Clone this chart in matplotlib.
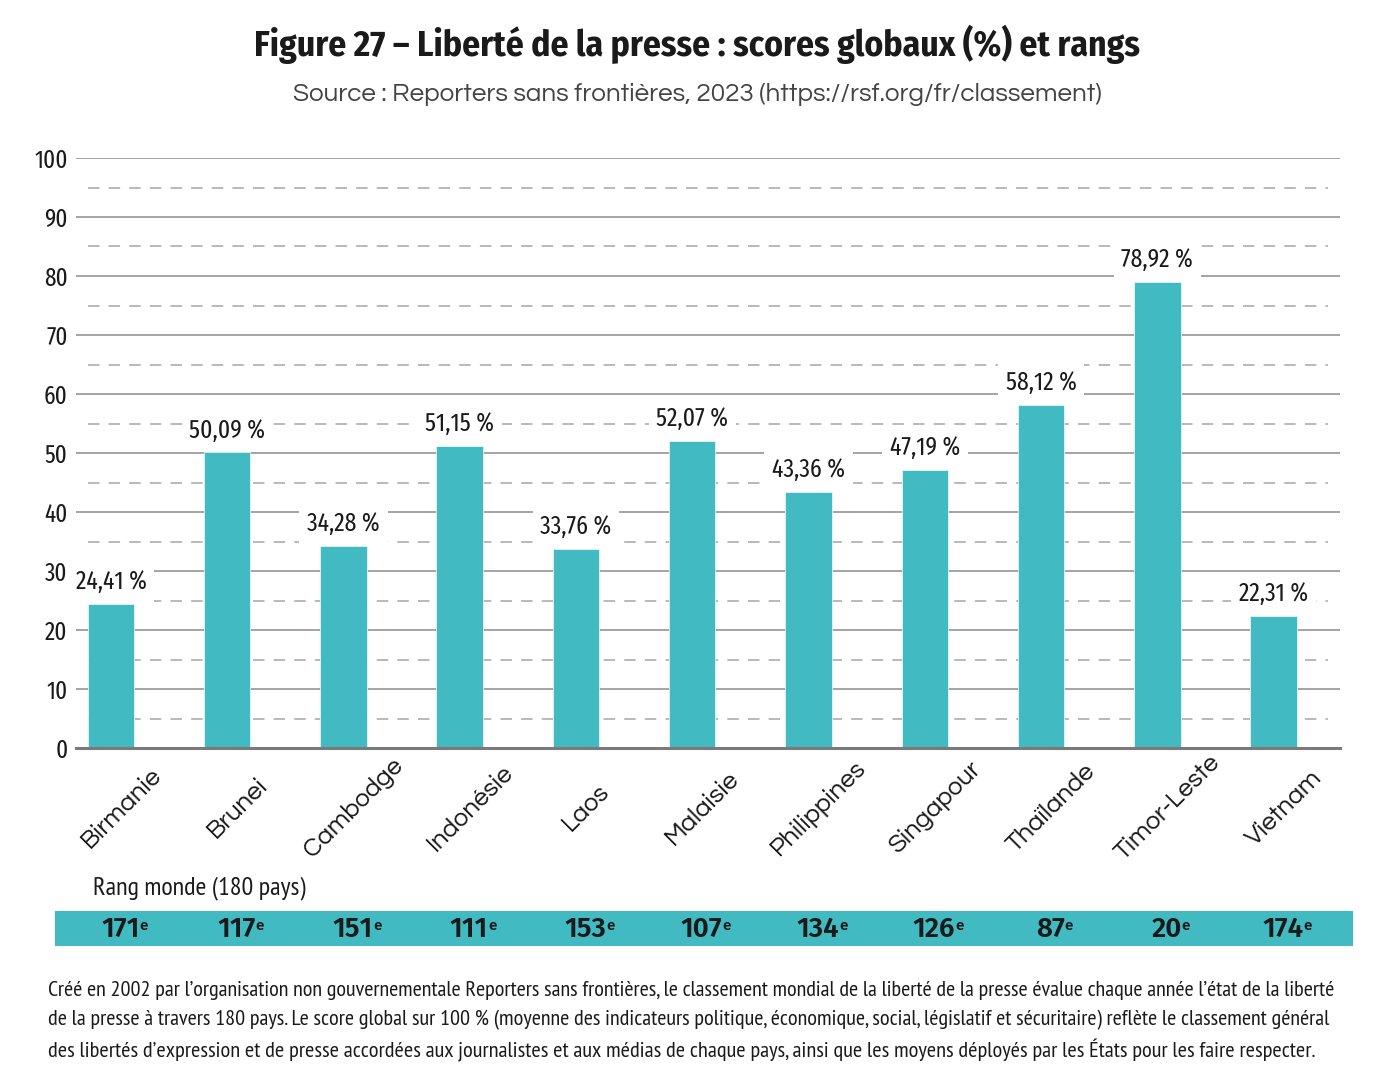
import matplotlib
matplotlib.use('Agg')
import matplotlib.pyplot as plt
import matplotlib.transforms as mtransforms
from matplotlib.patches import Rectangle

# Données (RSF 2023)
pays = ['Birmanie', 'Brunei', 'Cambodge', 'Indonésie', 'Laos', 'Malaisie',
        'Philippines', 'Singapour', 'Thaïlande', 'Timor-Leste', 'Vietnam']
scores = [24.41, 50.09, 34.28, 51.15, 33.76, 52.07, 43.36, 47.19, 58.12, 78.92, 22.31]
rangs = [171, 117, 151, 111, 153, 107, 134, 126, 87, 20, 174]

TEAL = '#42BAC2'
INK = '#1a1a1a'
TITLE_F = ['Fira Sans Condensed', 'Open Sans', 'DejaVu Sans']
RANK_F = ['Fira Sans', 'Open Sans', 'DejaVu Sans']
NUM_F = ['Fira Sans Extra Condensed', 'Roboto', 'DejaVu Sans']
NOTE_F = ['PT Sans Narrow', 'Roboto', 'DejaVu Sans']
CAT_F = ['Questrial', 'Open Sans', 'DejaVu Sans']

W, H = 1394, 1073
fig = plt.figure(figsize=(W / 100, H / 100), dpi=100)
renderer = fig.canvas.get_renderer()


def fit_width(t, target_px):
    # ajuste la taille de police pour retrouver la largeur de la maquette
    w = t.get_window_extent(renderer).width
    t.set_fontsize(t.get_fontsize() * target_px / w)


ax = fig.add_axes([76 / W, 1 - 748 / H, (1340 - 76) / W, (748 - 158) / H])

x = list(range(len(pays)))
ax.set_xlim(-0.301, 10.572)
ax.set_ylim(0, 100)

# grille : pleine tous les 10, tirets tous les 5
for y in range(10, 101, 10):
    ax.axhline(y, color='#8c8c8c', lw=1.1, zorder=1)
ax.hlines([y + 5 for y in range(0, 100, 10)], -0.198, 10.469, colors='#a6a6a6',
          linestyles=(0, (7.5, 6.0)), lw=1.1, zorder=1)

ax.bar(x, scores, width=0.40, color=TEAL, edgecolor='#e6f6f7', linewidth=0.6, zorder=3)

for i, s in enumerate(scores):
    lbl = f"{s:.2f}".replace('.', ',') + ' %'
    ax.annotate(lbl, (i, s), xytext=(0, 7), textcoords='offset points',
                ha='center', va='bottom', fontsize=18.5, family=NUM_F,
                color=INK, bbox=dict(boxstyle='square,pad=0.3', fc='white', ec='none'), zorder=4)

for side in ['top', 'right', 'left']:
    ax.spines[side].set_visible(False)
ax.spines['bottom'].set_color('#7a7a7a')
ax.spines['bottom'].set_linewidth(2.2)
ax.spines['bottom'].set_zorder(5)

ax.set_yticks(range(0, 101, 10))
ax.set_yticklabels([str(v) for v in range(0, 101, 10)], family=NUM_F, fontsize=18, color=INK)
ax.tick_params(axis='y', length=0, pad=6)
ax.set_xticks([])

# étiquettes de pays, pivotées autour de leur centre
trans = mtransforms.blended_transform_factory(ax.transData, fig.transFigure)
for i, p in enumerate(pays):
    ax.text(i + 0.09, 1 - 808 / H, p, transform=trans, rotation=45, rotation_mode='anchor',
            ha='center', va='center', fontsize=18.5, family=CAT_F, color=INK)

# titre et source
t = fig.text(0.5, 1 - 44 / H, 'Figure 27 – Liberté de la presse : scores globaux (%) et rangs',
             ha='center', va='center', fontsize=24, fontweight='bold', family=TITLE_F, color=INK)
fit_width(t, 885)
t = fig.text(0.5, 1 - 94 / H, 'Source : Reporters sans frontières, 2023 (https://rsf.org/fr/classement)',
             ha='center', va='center', fontsize=15, family=CAT_F, color='#444444')
fit_width(t, 814)

# bandeau des rangs
t = fig.text(93 / W, 1 - 888 / H, 'Rang monde (180 pays)', ha='left', va='center',
             fontsize=17, family=NOTE_F, color=INK)
fit_width(t, 213)
fig.patches.append(Rectangle((55 / W, 1 - 946 / H), (1353 - 55) / W, 35 / H,
                             transform=fig.transFigure, facecolor=TEAL, edgecolor='none',
                             zorder=-1))
for i, r in enumerate(rangs):
    t = ax.text(i + 0.08, 1 - 929 / H, str(r), transform=trans, ha='center', va='center',
                fontsize=20, fontweight='semibold', family=RANK_F, color=INK)
    ax.annotate('e', xy=(1, 1), xycoords=t, xytext=(0, -2), textcoords='offset points',
                ha='left', va='top', fontsize=11, fontweight='semibold', family=RANK_F, color=INK)

# note de bas de page
note = ["Créé en 2002 par l’organisation non gouvernementale Reporters sans frontières, le classement mondial de la liberté de la presse évalue chaque année l’état de la liberté",
        "de la presse à travers 180 pays. Le score global sur 100 % (moyenne des indicateurs politique, économique, social, législatif et sécuritaire) reflète le classement général",
        "des libertés d’expression et de presse accordées aux journalistes et aux médias de chaque pays, ainsi que les moyens déployés par les États pour les faire respecter."]
note_w = [1298, 1297, 1275]
for k, line in enumerate(note):
    t = fig.text(48 / W, 1 - (990 + 30 * k) / H, line, ha='left', va='center',
                 fontsize=14, family=NOTE_F, color=INK)
    fit_width(t, note_w[k])

fig.savefig('out.png', dpi=100)
